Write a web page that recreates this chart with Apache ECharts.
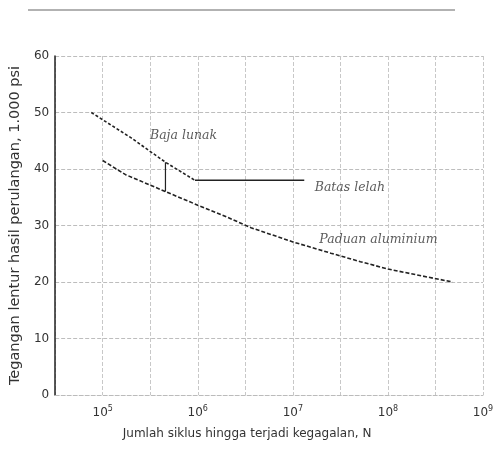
<!DOCTYPE html>
<html><head><meta charset="utf-8">
<script src="https://cdn.jsdelivr.net/npm/echarts@6/dist/echarts.min.js"></script>
<style>html,body{margin:0;padding:0;background:#fff}#c{width:499px;height:461px}</style>
</head><body><div id="c"></div>
<script>
// x values are log10(N)
const steelLogN = [4.88, 5.3, 5.66, 5.97];
const steelStress = [50, 45.5, 41.2, 38];
const limitLogN = [5.97, 7.12];
const limitStress = [38, 38];
const aluLogN = [5.0, 5.24, 5.66, 6.0, 6.28, 6.56, 7.0, 7.4, 7.71, 8.0, 8.35, 8.68];
const aluStress = [41.5, 39, 36, 33.6, 31.7, 29.6, 27.1, 25.1, 23.6, 22.3, 21.1, 20];
const connLogN = [5.66, 5.66];
const connStress = [41.2, 36];
const xTicks = [5, 6, 7, 8, 9];
const yTicks = [0, 10, 20, 30, 40, 50, 60];
const labels = [
  {text: 'Baja lunak', x: 5.85, y: 45.8},
  {text: 'Batas lelah', x: 7.6, y: 36.7},
  {text: 'Paduan aluminium', x: 7.9, y: 27.4}
];

const zip = (a, b) => a.map((v, i) => [v, b[i]]);
const chart = echarts.init(document.getElementById('c'));
const ink = '#222';
chart.setOption({
  backgroundColor: '#fff',
  animation: false,
  grid: {left: 52, top: 56, right: 16, bottom: 66},
  xAxis: {
    type: 'value', min: 4.5, max: 9, interval: 0.5,
    name: 'Jumlah siklus hingga terjadi kegagalan, N',
    nameLocation: 'middle', nameGap: 33,
    nameTextStyle: {color: '#333', fontSize: 12, fontFamily: 'DejaVu Sans', padding: [0, 44, 0, 0]},
    axisLine: {show: true, lineStyle: {color: '#bbb', type: 'dashed'}},
    axisTick: {show: false},
    splitLine: {show: true, lineStyle: {color: '#c8c8c8', type: 'dashed', width: 1}},
    axisLabel: {
      margin: 10,
      formatter: v => xTicks.includes(v) ? '{b|10}{s|' + v + '}' : '',
      rich: {
        b: {fontSize: 12, color: '#333', fontFamily: 'DejaVu Sans'},
        s: {fontSize: 8, color: '#333', verticalAlign: 'top', padding: [0, 0, 8, 0], fontFamily: 'DejaVu Sans'}
      }
    }
  },
  yAxis: {
    type: 'value', min: 0, max: 60, interval: 10,
    name: 'Tegangan lentur hasil perulangan, 1.000 psi',
    nameLocation: 'middle', nameGap: 26,
    nameTextStyle: {color: '#333', fontSize: 14.5, fontFamily: 'DejaVu Sans'},
    axisLine: {show: true, lineStyle: {color: ink, width: 1.5}},
    axisTick: {show: false},
    axisLabel: {color: '#333', fontSize: 12, margin: 6, fontFamily: 'DejaVu Sans',
      formatter: v => yTicks.includes(v) ? String(v) : ''},
    splitLine: {show: true, lineStyle: {color: '#bdbdbd', type: 'dashed', width: 1}}
  },
  graphic: [
    {type: 'line', shape: {x1: 28, y1: 10, x2: 455, y2: 10}, style: {stroke: '#999', lineWidth: 1.5}}
  ],
  series: [
    {type: 'line', data: zip(steelLogN, steelStress), symbol: 'none',
     lineStyle: {color: ink, width: 1.6, type: [3, 2]}},
    {type: 'line', data: zip(limitLogN, limitStress), symbol: 'none',
     lineStyle: {color: ink, width: 1.6}},
    {type: 'line', data: zip(aluLogN, aluStress), symbol: 'none',
     lineStyle: {color: ink, width: 1.6, type: [4, 2]}},
    {type: 'line', data: zip(connLogN, connStress), symbol: 'none',
     lineStyle: {color: ink, width: 1.2}},
    {type: 'scatter', symbolSize: 0, data: labels.map(l => ({value: [l.x, l.y], name: l.text})),
     label: {show: true, position: 'inside', formatter: p => p.name,
       fontStyle: 'italic', fontSize: 12.5, color: '#333', fontFamily: 'DejaVu Serif'}}
  ]
});
</script></body></html>
